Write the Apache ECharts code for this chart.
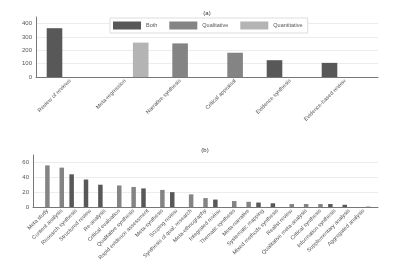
<!DOCTYPE html>
<html>
<head>
<meta charset="utf-8">
<script src="https://cdn.jsdelivr.net/npm/echarts@6/dist/echarts.min.js"></script>
<style>
  html, body { margin: 0; padding: 0; background: #fff; }
  #chart { width: 396px; height: 269px; }
</style>
</head>
<body>
<div id="chart"></div>
<script>
// (a) panel
const topCategories = ['Review of reviews', 'Meta-regression', 'Narrative synthesis', 'Critical appraisal', 'Evidence synthesis', 'Evidence-based review']
const topBoth = [366, null, null, null, 126, 106]
const topQual = [null, null, 252, 182, null, null]
const topQuant = [null, 258, null, null, null, null]

// (b) panel
const bottomCategories = ['Meta study', 'Content analysis', 'Research synthesis', 'Structured review', 'Re-analysis',
  'Critical evaluation', 'Qualitative synthesis', 'Rapid evidence assessment', 'Meta-synthesis', 'Scoping review',
  'Synthesis of qual. research', 'Meta-ethnography', 'Integrated review', 'Thematic synthesis', 'Meta-narrative',
  'Systematic mapping', 'Mixed methods synthesis', 'Realist review', 'Qualitative meta-analysis', 'Critical synthesis',
  'Information synthesis', 'Supplementary analysis', 'Aggregated analysis']
const bottomBoth = [null, null, 44, 37, 30, null, null, 25, null, 20, null, null, 10, null, null, 6, 5, null, null, null, 4, 3, null]
const bottomQual = [56, 53, null, null, null, 29, 27, null, 23, null, 17, 12, null, 8, 7, null, null, 4, 4, 4, null, null, null]
const bottomQuant = [null, null, null, null, null, null, null, null, null, null, null, null, null, null, null, null, null, null, null, null, null, null, 1]

const topTicks = { min: 0, max: 450, interval: 100 }
const bottomTicks = { min: 0, max: 70, interval: 20 }

const colors = { Both: '#585858', Qualitative: '#848484', Quantitative: '#b4b4b4' }
const font = 'Liberation Sans, Arial, sans-serif'
const textColor = '#555'
const lineColor = '#777'

const chart = echarts.init(document.getElementById('chart'))

// axis frame (y axis + gridlines + x axis line), bars sit in an inner grid
const frameY = (ticks, idx) => ({
  type: 'value', gridIndex: idx, min: ticks.min, max: ticks.max, interval: ticks.interval,
  axisLine: { show: true, lineStyle: { color: lineColor, width: 1 } },
  axisTick: { show: false },
  axisLabel: { fontSize: 6, color: textColor, fontFamily: font, margin: 4, showMaxLabel: false },
  splitLine: { show: true, showMaxLine: false, lineStyle: { color: '#ececec', width: 1 } }
})
const frameX = idx => ({
  type: 'value', gridIndex: idx, min: 0, max: 1,
  axisLine: { show: true, onZero: false, lineStyle: { color: lineColor, width: 1 } },
  axisTick: { show: false }, axisLabel: { show: false }, splitLine: { show: false }
})
const barY = (ticks, idx) => ({
  type: 'value', gridIndex: idx, min: ticks.min, max: ticks.max, show: false
})
const barX = (cats, idx) => ({
  type: 'category', gridIndex: idx, data: cats,
  axisLine: { show: false }, axisTick: { show: false },
  axisLabel: { interval: 0, rotate: 45, fontSize: 5.5, color: textColor, fontFamily: font, margin: 3 }
})

const bar = (name, data, idx, width) => ({
  name, type: 'bar', data, xAxisIndex: idx, yAxisIndex: idx,
  barWidth: width, barGap: '0%',
  itemStyle: { color: colors[name] }
})

const titleStyle = { fontSize: 6, fontWeight: 'normal', color: '#333', fontFamily: font }

chart.setOption({
  animation: false,
  title: [
    { text: '(a)', left: 207, top: 10, padding: 0, textAlign: 'center', textStyle: titleStyle },
    { text: '(b)', left: 205, top: 147.5, padding: 0, textAlign: 'center', textStyle: titleStyle }
  ],
  legend: {
    data: ['Both', 'Qualitative', 'Quantitative'],
    left: 110, top: 18, orient: 'horizontal',
    icon: 'rect', itemWidth: 28, itemHeight: 8, itemGap: 12,
    padding: [3.5, 5, 3.5, 3],
    backgroundColor: '#fff', borderColor: '#ddd', borderWidth: 1,
    textStyle: { fontSize: 5.5, color: textColor, fontFamily: font }
  },
  grid: [
    { left: 36, right: 18, top: 17, bottom: 192 },
    { left: 42.6, right: 23.4, top: 17, bottom: 192 },
    { left: 33, right: 18, top: 155, bottom: 62 },
    { left: 40.2, right: 25.2, top: 155, bottom: 62 }
  ],
  xAxis: [frameX(0), barX(topCategories, 1), frameX(2), barX(bottomCategories, 3)],
  yAxis: [frameY(topTicks, 0), barY(topTicks, 1), frameY(bottomTicks, 2), barY(bottomTicks, 3)],
  series: [
    bar('Both', topBoth, 1, 15.6),
    bar('Qualitative', topQual, 1, 15.6),
    bar('Quantitative', topQuant, 1, 15.6),
    bar('Both', bottomBoth, 3, 4.5),
    bar('Qualitative', bottomQual, 3, 4.5),
    bar('Quantitative', bottomQuant, 3, 4.5)
  ]
})
</script>
</body>
</html>
